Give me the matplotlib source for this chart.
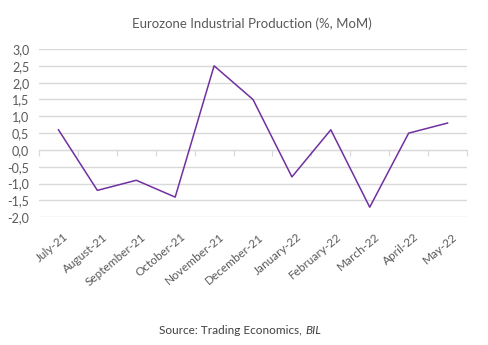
import matplotlib
matplotlib.use("Agg")
import matplotlib.pyplot as plt
import matplotlib.transforms as mtransforms

plt.rcParams['font.family'] = ['Lato', 'DejaVu Sans']

categories = ["July-21", "August-21", "September-21", "October-21", "November-21",
              "December-21", "January-22", "February-22", "March-22", "April-22", "May-22"]
values = [0.6, -1.2, -0.9, -1.4, 2.5, 1.5, -0.8, 0.6, -1.7, 0.5, 0.8]
yticks = [3.0, 2.5, 2.0, 1.5, 1.0, 0.5, 0.0, -0.5, -1.0, -1.5, -2.0]
title = "Eurozone Industrial Production (%, MoM)"

text_col = "#595959"
grid_col = "#D9D9D9"
line_col = "#7030A0"

fig = plt.figure(figsize=(4.89, 3.45), dpi=100)
ax = fig.add_axes([39/489, 1-217.3/345, (467-39)/489, (217.3-49)/345])

x = list(range(len(categories)))
ax.plot(x, values, color=line_col, lw=1.1, zorder=3)
ax.set_xlim(-0.5, len(categories)-0.5)
ax.set_ylim(-2.0, 3.0)

ax.set_yticks(yticks)
ax.set_yticklabels([f"{v:.1f}".replace(".", ",") for v in yticks], color=text_col, fontsize=9)
ax.tick_params(axis='y', length=0, pad=7)
ax.grid(axis='y', color=grid_col, lw=1)
ax.set_axisbelow(True)

for s in ['top', 'right', 'left']:
    ax.spines[s].set_visible(False)
ax.spines['bottom'].set_position(('data', 0))
ax.spines['bottom'].set_color(grid_col)
ax.spines['bottom'].set_zorder(2)
ax.set_xticks([i - 0.5 for i in range(len(categories)+1)])
ax.set_xticklabels([])
ax.tick_params(axis='x', length=4, color=grid_col, direction='out')

trans = mtransforms.blended_transform_factory(ax.transData, ax.transAxes)
offset = mtransforms.ScaledTranslation(5/100, -14/100, fig.dpi_scale_trans)
for i, c in enumerate(categories):
    ax.text(i, 0, c, transform=trans + offset, rotation=40, ha='right', va='top',
            rotation_mode='anchor', fontsize=8.5, color=text_col)

fig.text(252/489, 1-24/345, title, ha='center', va='center', fontsize=9.5, color=text_col)
fig.text(302/489, 1-331/345, "Source: Trading Economics,", ha='right', va='center',
         fontsize=8.5, color='#404040')
fig.text(305/489, 1-331/345, "BIL", ha='left', va='center', fontsize=8.5,
         color='#404040', style='italic')

fig.savefig("out.png", dpi=100)
